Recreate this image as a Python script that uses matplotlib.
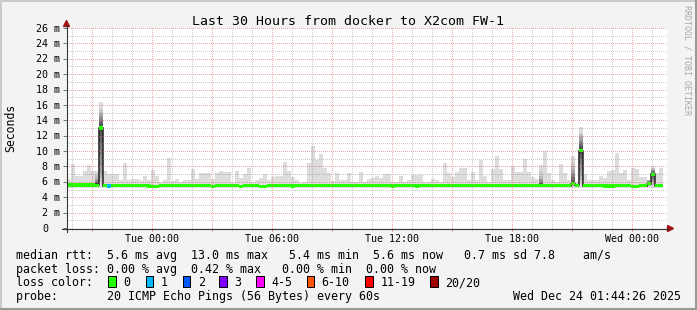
import numpy as np
import matplotlib
matplotlib.use("Agg")
import matplotlib.pyplot as plt
from matplotlib.lines import Line2D
from matplotlib.patches import Polygon, Rectangle

MONO = "DejaVu Sans Mono"

# ---------------- data ----------------
title = "Last 30 Hours from docker to X2com FW-1"
x_tick_hours = [0, 6, 12, 18, 24]
x_tick_labels = ["Tue 00:00", "Tue 06:00", "Tue 12:00", "Tue 18:00", "Wed 00:00"]
y_tick_values = [2, 4, 6, 8, 10, 12, 14, 16, 18, 20, 22, 24, 26]
y_tick_labels = ["2 m", "4 m", "6 m", "8 m", "10 m", "12 m", "14 m", "16 m",
                 "18 m", "20 m", "22 m", "24 m", "26 m"]
start_hour = -4.25      # hours relative to Tue 00:00
end_hour = 25.75
bin_hours = 0.2         # 12 minute consolidation
smoke_floor = 5.25      # ms

# top of the smoke (max ping) per 12-min bin, ms
smoke_top = [
    6.4, 8.3, 6.7, 6.7, 7.4, 8.2, 7.4, 7.4, 16.4, 7.4,
    7.0, 7.0, 7.0, 6.2, 8.4, 6.2, 6.4, 6.4, 6.2, 6.7,
    6.2, 7.5, 6.8, 6.0, 6.2, 9.1, 6.1, 6.4, 6.0, 6.3,
    6.3, 7.7, 6.4, 7.1, 7.1, 7.1, 6.4, 7.1, 7.4, 7.3,
    7.3, 5.9, 7.4, 6.5, 7.0, 7.8, 5.9, 6.3, 6.5, 7.0,
    6.2, 6.6, 6.7, 6.7, 8.6, 7.4, 6.6, 6.2, 5.9, 6.0,
    8.4, 10.6, 8.9, 9.6, 7.8, 7.2, 6.1, 7.2, 6.3, 6.3,
    7.2, 6.0, 6.0, 7.3, 6.0, 6.4, 6.5, 6.7, 6.5, 7.0,
    7.0, 6.0, 6.0, 6.7, 6.0, 6.2, 6.9, 6.9, 6.9, 6.0,
    6.0, 6.4, 6.2, 6.0, 8.4, 7.1, 6.6, 7.3, 7.8, 7.8,
    6.2, 7.3, 6.2, 8.9, 6.7, 6.0, 7.7, 9.4, 7.7, 6.2,
    6.2, 8.1, 7.3, 7.3, 9.0, 7.3, 6.6, 6.4, 8.2, 10.0,
    7.2, 6.2, 6.0, 8.3, 7.1, 6.3, 9.3, 6.0, 13.1, 7.0,
    6.2, 6.2, 6.2, 6.8, 6.5, 7.4, 7.5, 9.7, 7.1, 7.5,
    6.3, 7.8, 7.7, 6.6, 6.6, 6.3, 8.0, 7.1, 7.8,
]

# median rtt per bin, ms
median_rtt = [
    5.6, 5.6, 5.6, 5.6, 5.6, 5.6, 5.6, 5.55, 13.0, 5.5,
    5.45, 5.5, 5.5, 5.5, 5.5, 5.5, 5.5, 5.5, 5.5, 5.5,
    5.45, 5.4, 5.4, 5.5, 5.5, 5.5, 5.5, 5.5, 5.5, 5.5,
    5.5, 5.5, 5.5, 5.5, 5.5, 5.5, 5.4, 5.5, 5.5, 5.5,
    5.5, 5.5, 5.5, 5.4, 5.5, 5.5, 5.5, 5.5, 5.4, 5.4,
    5.5, 5.5, 5.5, 5.5, 5.5, 5.5, 5.45, 5.5, 5.5, 5.5,
    5.5, 5.5, 5.5, 5.55, 5.5, 5.5, 5.5, 5.55, 5.55, 5.55,
    5.5, 5.5, 5.5, 5.5, 5.5, 5.5, 5.5, 5.5, 5.5, 5.5,
    5.5, 5.45, 5.5, 5.5, 5.5, 5.5, 5.5, 5.45, 5.5, 5.5,
    5.5, 5.5, 5.5, 5.5, 5.5, 5.5, 5.5, 5.5, 5.5, 5.5,
    5.5, 5.5, 5.5, 5.5, 5.5, 5.5, 5.5, 5.5, 5.5, 5.5,
    5.5, 5.5, 5.5, 5.5, 5.5, 5.5, 5.5, 5.5, 5.5, 5.5,
    5.5, 5.5, 5.5, 5.5, 5.5, 5.5, 5.75, 5.55, 10.05, 5.5,
    5.5, 5.5, 5.5, 5.5, 5.45, 5.45, 5.45, 5.5, 5.5, 5.5,
    5.5, 5.4, 5.4, 5.5, 5.5, 5.75, 7.0, 5.5, 5.5,
]

# lost pings (of 20) per bin
loss_count = [
    0, 0, 0, 0, 0, 0, 0, 0, 0, 0,
    1, 0, 0, 0, 0, 0, 0, 0, 0, 0,
    0, 0, 0, 0, 0, 0, 0, 0, 0, 0,
    0, 0, 0, 0, 0, 0, 0, 0, 0, 0,
    0, 0, 0, 0, 0, 0, 0, 0, 0, 0,
    0, 0, 0, 0, 0, 0, 0, 0, 0, 0,
    0, 0, 0, 0, 0, 0, 0, 0, 0, 0,
    0, 0, 0, 0, 0, 0, 0, 0, 0, 0,
    0, 0, 0, 0, 0, 0, 0, 0, 0, 0,
    0, 0, 0, 0, 0, 0, 0, 0, 0, 0,
    0, 0, 0, 0, 0, 0, 0, 0, 0, 0,
    0, 0, 0, 0, 0, 0, 0, 0, 0, 0,
    0, 0, 0, 0, 0, 0, 0, 0, 0, 0,
    0, 0, 0, 0, 0, 0, 0, 0, 0, 0,
    0, 0, 0, 0, 0, 0, 0, 0, 0,
]

# sorted ping spread (20 pings, ms) for bins with visible dark smoke
ping_spread = {
    7: [5.3, 5.35, 5.4, 5.45, 5.5, 5.55, 5.6, 5.62, 5.65, 5.7,
        5.75, 5.8, 5.9, 6.0, 6.1, 6.2, 6.4, 6.7, 7.0, 7.4],
    8: [5.5, 6.0, 6.5, 7.0, 8.0, 9.5, 11.0, 12.0, 12.6, 12.9,
        13.0, 13.3, 13.6, 13.9, 14.2, 14.5, 14.8, 15.1, 15.5, 16.4],
    118: [5.3, 5.35, 5.4, 5.45, 5.5, 5.52, 5.55, 5.6, 5.62, 5.65,
          5.7, 5.75, 5.8, 5.9, 6.0, 6.2, 6.4, 6.8, 7.4, 8.2],
    126: [5.3, 5.4, 5.5, 5.55, 5.6, 5.65, 5.7, 5.72, 5.74, 5.75,
          5.8, 6.0, 6.3, 6.6, 6.9, 7.2, 7.5, 8.0, 8.6, 9.3],
    128: [5.4, 5.8, 6.2, 6.8, 7.5, 8.3, 9.0, 9.5, 9.8, 10.0,
          10.1, 10.3, 10.6, 10.9, 11.2, 11.5, 11.8, 12.1, 12.4, 13.1],
    145: [5.3, 5.4, 5.45, 5.5, 5.55, 5.6, 5.65, 5.7, 5.75, 5.8,
          5.85, 5.9, 5.95, 6.0, 6.05, 6.1, 6.15, 6.2, 6.25, 6.3],
    146: [5.4, 5.6, 5.8, 6.0, 6.2, 6.4, 6.6, 6.8, 6.9, 7.0,
          7.05, 7.1, 7.2, 7.3, 7.4, 7.5, 7.6, 7.7, 7.85, 8.0],
}

loss_labels = ["0", "1", "2", "3", "4-5", "6-10", "11-19", "20/20"]
loss_colors = ["#26ff00", "#00b8ff", "#0059ff", "#7e00ff", "#ff00ff",
               "#ff5500", "#ff0000", "#a10000"]
loss_upper = [0, 1, 2, 3, 5, 10, 19, 20]

legend_rtt = ("median rtt:  5.6 ms avg  13.0 ms max   5.4 ms min  "
              "5.6 ms now   0.7 ms sd 7.8    am/s")
legend_loss = "packet loss: 0.00 % avg  0.42 % max   0.00 % min  0.00 % now"
legend_probe = "probe:       20 ICMP Echo Pings (56 Bytes) every 60s"
timestamp = "Wed Dec 24 01:44:26 2025"
watermark = "RRDTOOL / TOBI OETIKER"

# ---------------- figure ----------------
W, H = 697, 310
PW, PH = 600, 200          # canvas size in pixels
BG = "#f3f3f3"


def fx(px):
    return px / W


def fy(py):
    return 1 - py / H


fig = plt.figure(figsize=(W / 100, H / 100), dpi=100, facecolor=BG)
ax = fig.add_axes([fx(67), fy(228), PW / W, PH / H], facecolor="white")
for s in ax.spines.values():
    s.set_visible(False)

n = len(smoke_top)
edges = start_hour + bin_hours * np.arange(n + 1)
left = edges[:-1]
top = np.array(smoke_top)
med = np.array(median_rtt)

# light smoke
ax.bar(left, top - smoke_floor, bottom=smoke_floor, width=bin_hours,
       align="edge", color="#dddddd", linewidth=0, antialiased=False, zorder=1)

# dark smoke layers
for k, pings in ping_spread.items():
    p = sorted(pings)
    half = len(p) // 2
    for i in range(1, half + 1):
        lo, hi = p[i - 1], p[-i]
        g = int(190 / half * (half - i)) + 50
        ax.bar(edges[k], hi - lo, bottom=lo, width=bin_hours, align="edge",
               color="#%02x%02x%02x" % (g, g, g), linewidth=0,
               antialiased=False, zorder=2)

# median step line
ax.stairs(med, edges, color="#202020", linewidth=1.1, baseline=None, zorder=3)

# loss-coloured median band
band = 0.42


def loss_color(c):
    for up, col in zip(loss_upper, loss_colors):
        if c <= up:
            return col
    return loss_colors[-1]


cols = [loss_color(c) for c in loss_count]
ax.bar(left, band, bottom=med - band / 2, width=bin_hours, align="edge",
       color=cols, linewidth=0, antialiased=False, zorder=4)

# dotted grid as a pixel overlay (1 px on / 1 px off), drawn over the data
ymax = 26
grid_img = np.zeros((PH, PW, 4))
minor_rgba = (0.50, 0.50, 0.50, 0.42)
major_rgba = (0.88, 0.38, 0.38, 0.55)
for v in range(1, ymax + 1):
    r = min(PH - 1, int(round((ymax - v) / ymax * PH)))
    grid_img[r, 0::2] = major_rgba if v % 2 == 0 else minor_rgba
for h in range(-4, 26):
    c = int(round((h - start_hour) / (end_hour - start_hour) * PW))
    if 0 <= c < PW:
        grid_img[0::2, c] = major_rgba if h % 3 == 0 else minor_rgba
ax.imshow(grid_img, extent=(start_hour, end_hour, 0, ymax), origin="upper",
          interpolation="nearest", aspect="auto", zorder=5)
ax.set_xlim(start_hour, end_hour)
ax.set_ylim(0, ymax)

# ticks
ax.set_xticks(list(range(-3, 26, 3)))
ax.set_xticks(list(range(-4, 26)), minor=True)
ax.set_yticks([0] + y_tick_values)
ax.set_xticklabels([])
ax.set_yticklabels([])
ax.tick_params(axis="x", which="major", length=2.2, width=0.72,
               color="#e07070", direction="out")
ax.tick_params(axis="x", which="minor", length=1.5, width=0.72,
               color="#aaaaaa", direction="out")
ax.tick_params(axis="y", which="major", length=2.9, width=0.72,
               color="#777777", direction="out")

# axis lines + arrows
axis_c = "#333333"
arrow_c = "#a01010"
fig.add_artist(Line2D([fx(62), fx(668)], [fy(228.5), fy(228.5)],
                      color=axis_c, linewidth=0.8, transform=fig.transFigure))
fig.add_artist(Line2D([fx(66.5), fx(66.5)], [fy(232), fy(25)],
                      color=axis_c, linewidth=0.8, transform=fig.transFigure))
fig.add_artist(Polygon([(fx(63.5), fy(26.5)), (fx(69.5), fy(26.5)),
                        (fx(66.5), fy(20.5))], closed=True, color=arrow_c,
                       transform=fig.transFigure))
fig.add_artist(Polygon([(fx(667.5), fy(225.5)), (fx(667.5), fy(231.5)),
                        (fx(673.5), fy(228.5))], closed=True, color=arrow_c,
                       transform=fig.transFigure))

# tick labels
x_of = lambda h: 67 + (h - start_hour) / (end_hour - start_hour) * PW
y_of = lambda v: 228 - v / ymax * PH
for h, lab in zip(x_tick_hours, x_tick_labels):
    fig.text(fx(x_of(h)), fy(241.7), lab, family=MONO, fontsize=7.2,
             ha="center", va="baseline")
for v, lab in zip(y_tick_values, y_tick_labels):
    fig.text(fx(60), fy(y_of(v) + 3.6), lab, family=MONO, fontsize=7.2,
             ha="right", va="baseline")
fig.text(fx(48.5), fy(228 + 3.6), "0", family=MONO, fontsize=7.2,
         ha="right", va="baseline")

# title, axis label, watermark
fig.text(fx(347.5), fy(25), title, family=MONO, fontsize=9.5,
         ha="center", va="baseline")
fig.text(fx(11), fy(128), "Seconds", family=MONO, fontsize=8.3,
         rotation=90, ha="center", va="center")
fig.text(fx(687), fy(5), watermark, family=MONO, fontsize=6.0,
         rotation=270, ha="center", va="top", color="#a8a8a8")

# legend
LF = 8.34
fig.text(fx(16), fy(258.7), legend_rtt, family=MONO, fontsize=LF,
         ha="left", va="baseline")
fig.text(fx(16), fy(272.7), legend_loss, family=MONO, fontsize=LF,
         ha="left", va="baseline")
fig.text(fx(16), fy(286.5), "loss color:", family=MONO, fontsize=LF,
         ha="left", va="baseline")
box_x = [108.3, 145.7, 182.7, 219.3, 256.0, 306.7, 365.3, 430.2]
for bx, lab, col in zip(box_x, loss_labels, loss_colors):
    fig.add_artist(Rectangle((fx(bx), fy(286.5)), 7.5 / W, 10.5 / H,
                             facecolor=col, edgecolor="black", linewidth=0.72,
                             transform=fig.transFigure))
    fig.text(fx(bx + 15), fy(286.5), lab, family=MONO, fontsize=LF,
             ha="left", va="baseline")
fig.text(fx(16), fy(300.3), legend_probe, family=MONO, fontsize=LF,
         ha="left", va="baseline")
fig.text(fx(681), fy(300.3), timestamp, family=MONO, fontsize=LF,
         ha="right", va="baseline")

# 3D frame
fig.add_artist(Line2D([0, 1], [fy(1), fy(1)], color="#cbcbcb", linewidth=1.44,
                      transform=fig.transFigure))
fig.add_artist(Line2D([fx(1), fx(1)], [0, 1], color="#cbcbcb", linewidth=1.44,
                      transform=fig.transFigure))
fig.add_artist(Line2D([0, 1], [fy(308.5), fy(308.5)], color="#999999",
                      linewidth=2.2, transform=fig.transFigure))
fig.add_artist(Line2D([fx(695.5), fx(695.5)], [0, 1], color="#999999",
                      linewidth=2.2, transform=fig.transFigure))

fig.savefig("out.png", dpi=100, facecolor=BG)
